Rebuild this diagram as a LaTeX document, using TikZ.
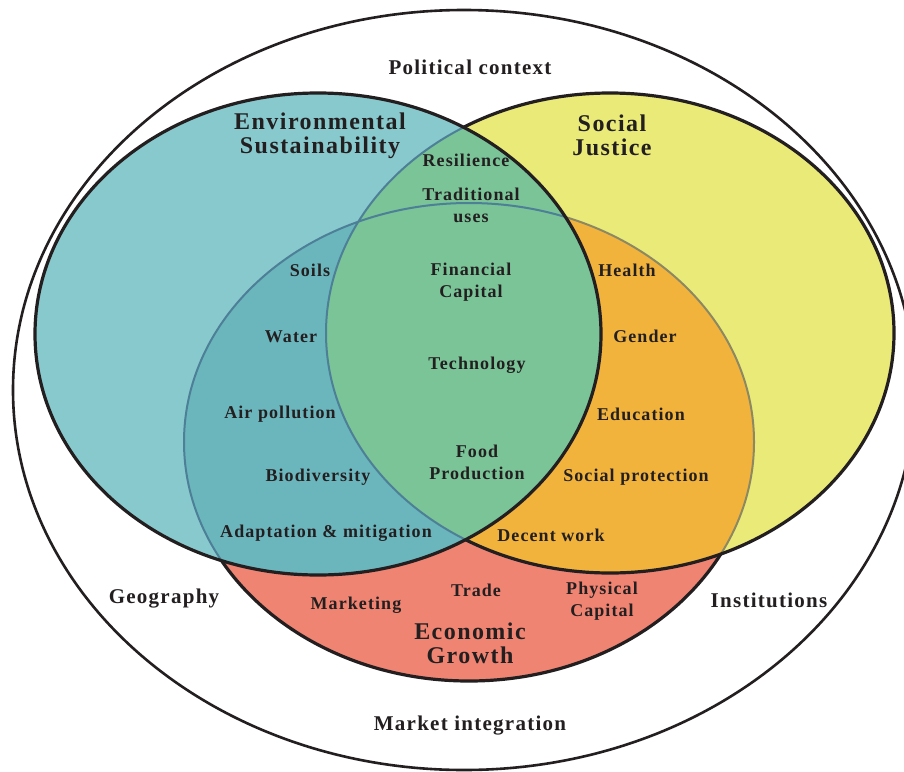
\documentclass[tikz,border=0pt]{standalone}
\usepackage{fontspec}
\setmainfont{Liberation Serif}[LetterSpace=6]
\usepackage{tikz}
\usetikzlibrary{positioning}

\definecolor{envblue}{HTML}{88C9CE}
\definecolor{socyellow}{HTML}{EAEA78}
\definecolor{ecored}{HTML}{EF8472}
\definecolor{mixteal}{HTML}{6BB6BD}
\definecolor{mixgreen}{HTML}{7AC498}
\definecolor{mixorange}{HTML}{F2B33D}
\definecolor{seamblue}{HTML}{4D7F97}
\definecolor{seamolive}{HTML}{8C8962}
\definecolor{inkgray}{HTML}{231F20}

% the three sets and the ring around them
\newcommand{\outerring}{(464,390) ellipse [x radius=451, y radius=380]}
\newcommand{\envset}{(318,334) ellipse [x radius=283, y radius=241]}
\newcommand{\socset}{(610,333) ellipse [x radius=284, y radius=240]}
\newcommand{\ecoset}{(469,442) ellipse [x radius=285, y radius=239]}

\begin{document}
\begin{tikzpicture}[x=1pt,y=-1pt]
  \tikzstyle{item}=[inner sep=0pt,align=center,text=inkgray,font=\bfseries\fontsize{18}{22}\selectfont]
  \tikzstyle{context}=[item,font=\bfseries\fontsize{21}{22}\selectfont]
  \tikzstyle{title}=[item,font=\bfseries\fontsize{24}{24}\selectfont]
  \tikzstyle{rim}=[line width=3.2pt,draw=inkgray]
  \tikzstyle{seam}=[line width=2pt]

  \useasboundingbox (0,0) rectangle (904,771);
  \fill[white] (0,0) rectangle (904,771);
  \draw[line width=2.6pt,draw=inkgray] \outerring;

  % economic growth
  \fill[ecored] \ecoset;
  \draw[rim] \ecoset;
  % social justice
  \fill[socyellow] \socset;
  \begin{scope}
    \clip \socset;
    \fill[mixorange] \ecoset;
    \draw[seam,draw=seamolive] \ecoset;
  \end{scope}
  \draw[rim] \socset;
  % environmental sustainability
  \fill[envblue] \envset;
  \begin{scope}
    \clip \envset;
    \fill[mixteal] \ecoset;
    \fill[mixgreen] \socset;
    \draw[seam,draw=seamblue] \ecoset \socset;
  \end{scope}
  \draw[rim] \envset;

  \node[context] (polctx) at (470,67)  {Political context};
  \node[context] (geo)    at (164,599) {Geography};
  \node[context] (inst)   at (769,600) {Institutions};
  \node[context] (mktint) at (470,726) {Market integration};

  \node[title] (envttl) at (320,136) {Environmental\\Sustainability};
  \node[title] (socttl) at (612,135) {Social\\Justice};
  \node[title] (ecottl) at (470,643) {Economic\\Growth};

  \node[item] (resil)  at (466,160) {Resilience};
  \node[item] (trad)   at (471,205) {Traditional\\uses};
  \node[item] (fincap) at (471,282) {Financial\\Capital};
  \node[item] (tech)   at (477,365) {Technology};
  \node[item] (food)   at (477,462) {Food\\Production};

  \node[item] (soils)  at (310,270) {Soils};
  \node[item] (water)  at (291,337) {Water};
  \node[item] (air)    at (280,414) {Air pollution};
  \node[item] (biodiv) at (318,477) {Biodiversity};
  \node[item] (adapt)  at (326,533) {Adaptation \& mitigation};

  \node[item] (health) at (627,270) {Health};
  \node[item] (gender) at (645,336) {Gender};
  \node[item] (educ)   at (641,414) {Education};
  \node[item] (socpro) at (636,477) {Social protection};
  \node[item] (decent) at (551,535) {Decent work};

  \node[item] (mkting) at (356,605) {Marketing};
  \node[item] (trade)  at (476,590) {Trade};
  \node[item] (physc)  at (602,601) {Physical\\Capital};
\end{tikzpicture}
\end{document}
